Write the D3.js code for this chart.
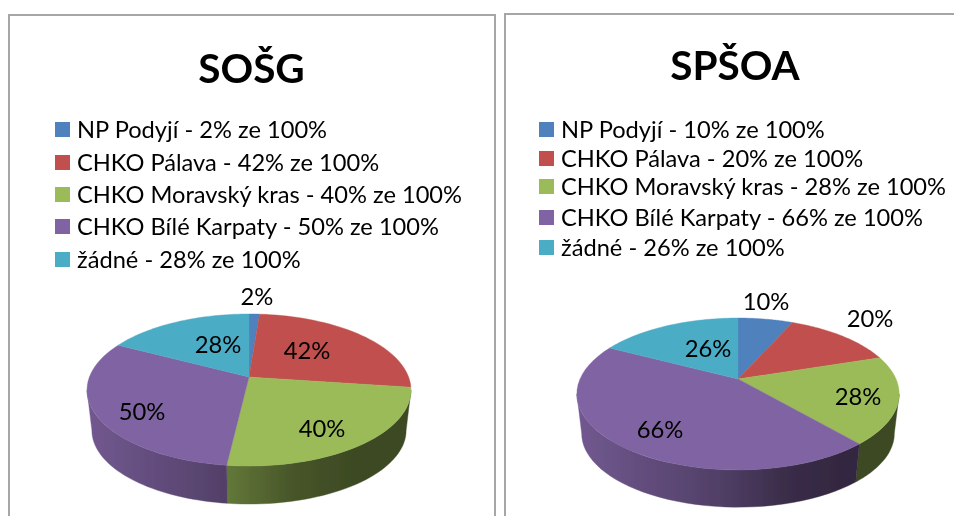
<!DOCTYPE html>
<html><head><meta charset="utf-8">
<script src="https://cdn.jsdelivr.net/npm/d3@7/dist/d3.min.js"></script>
<style>html,body{margin:0;background:#fff}svg{display:block}text{font-family:Lato,"Open Sans",sans-serif;fill:#000}</style>
</head><body><div id="c"></div>
<script>
const categories=["NP Podyjí","CHKO Pálava","CHKO Moravský kras","CHKO Bílé Karpaty","žádné"];
const colors=["#4F81BD","#C0504D","#9BBB59","#8064A2","#4BACC6"];
const sosgValues=[2,42,40,50,28];
const spsoaValues=[10,20,28,66,26];
const legendSuffix=" ze 100%";

const svg=d3.select("#c").append("svg").attr("width",954).attr("height",516);
const defs=svg.append("defs");
defs.append("filter").attr("id","soft").append("feGaussianBlur").attr("stdDeviation",0.45);
const root=svg.append("g").attr("filter","url(#soft)");

function drawChart(cfg,idx){
  const g=root.append("g");
  g.append("path").attr("d",`M${cfg.frame[0]},520V${cfg.frame[1]}H${cfg.frame[2]}V520`)
    .attr("fill","none").attr("stroke","#a6a6a6").attr("stroke-width",2);
  g.append("text").attr("x",cfg.titleX).attr("y",cfg.titleY).attr("text-anchor","middle")
    .attr("font-size",cfg.titleSize).attr("font-weight",700).text(cfg.title);
  const legend=g.selectAll("g.l").data(categories).join("g").attr("class","l");
  legend.append("rect").attr("x",cfg.legendX).attr("y",(d,i)=>cfg.legendY[i]-8).attr("width",15).attr("height",15).attr("fill",(d,i)=>colors[i]);
  legend.append("text").attr("x",cfg.legendX+22).attr("y",(d,i)=>cfg.legendY[i]+8).attr("font-size",cfg.legendSize)
    .text((d,i)=>`${d} - ${cfg.values[i]}%${legendSuffix}`);

  const arcs=d3.pie().sort(null).value(d=>d)(cfg.values);
  const {cx,cy,R,c,k,dy,s}=cfg;
  // perspective projection of a unit disc, angle measured clockwise from the far point
  const proj=(a,r,bottom)=>{
    const X=r*Math.sin(a),Y=r*Math.cos(a),w=1+k*Y,sc=bottom?s:1;
    return [cx+sc*R*X/w, cy+(bottom?dy:0)-sc*c*Y/w];
  };
  const line=d3.line();
  const samples=(a0,a1)=>d3.range(0,41).map(i=>a0+(a1-a0)*i/40);
  const thR=Math.acos(-k),thL=2*Math.PI-thR;
  // side wall
  arcs.forEach((d,i)=>{
    const a0=Math.max(d.startAngle,thR),a1=Math.min(d.endAngle,thL);
    if(a1<=a0)return;
    const id=`wall${idx}_${i}`,col=d3.rgb(colors[i]);
    const mul=f=>d3.rgb(col.r*f,col.g*f,col.b*f).formatHex();
    const grad=defs.append("linearGradient").attr("id",id).attr("gradientUnits","userSpaceOnUse")
      .attr("x1",cx-R).attr("x2",cx+R).attr("y1",0).attr("y2",0);
    [[0,.88],[.43,.64],[.65,.45],[.85,.39],[1,.39]].forEach(p=>grad.append("stop").attr("offset",p[0]).attr("stop-color",mul(p[1])));
    const top=samples(a0,a1).map(a=>proj(a,1,false));
    const bot=samples(a1,a0).map(a=>proj(a,1,true));
    g.append("path").attr("d",line(top.concat(bot))+"Z").attr("fill",`url(#${id})`).attr("stroke",`url(#${id})`).attr("stroke-width",.4);
  });
  // top face
  arcs.forEach((d,i)=>{
    const pts=[proj(0,0,false)].concat(samples(d.startAngle,d.endAngle).map(a=>proj(a,1,false)));
    g.append("path").attr("d",line(pts)+"Z").attr("fill",colors[i]).attr("stroke",colors[i]).attr("stroke-width",.4);
  });
  // data labels
  arcs.forEach((d,i)=>{
    g.append("text").attr("x",cfg.labels[i][0]).attr("y",cfg.labels[i][1]).attr("text-anchor","middle")
      .attr("font-size",23.8).text(d.value+"%");
  });
}

drawChart({title:"SOŠG",values:sosgValues,frame:[9,15,495],titleX:251.5,titleY:83,titleSize:40.5,
  legendX:55,legendY:[130,163,195,227,260],legendSize:23.65,
  cx:249,cy:377,R:159.6,c:73.8,k:.171,dy:40.7,s:.97,
  labels:[[257,305],[307,359],[322,437],[142,420],[218,353]]},0);
drawChart({title:"SPŠOA",values:spsoaValues,frame:[505,14,1000],titleX:735,titleY:80,titleSize:40.5,
  legendX:539,legendY:[130,159,187,218,248],legendSize:23.65,
  cx:738,cy:379,R:158,c:73,k:.197,dy:40,s:.97,
  labels:[[766,310],[870,327],[858,405],[660,438],[708,357]]},1);
</script></body></html>
